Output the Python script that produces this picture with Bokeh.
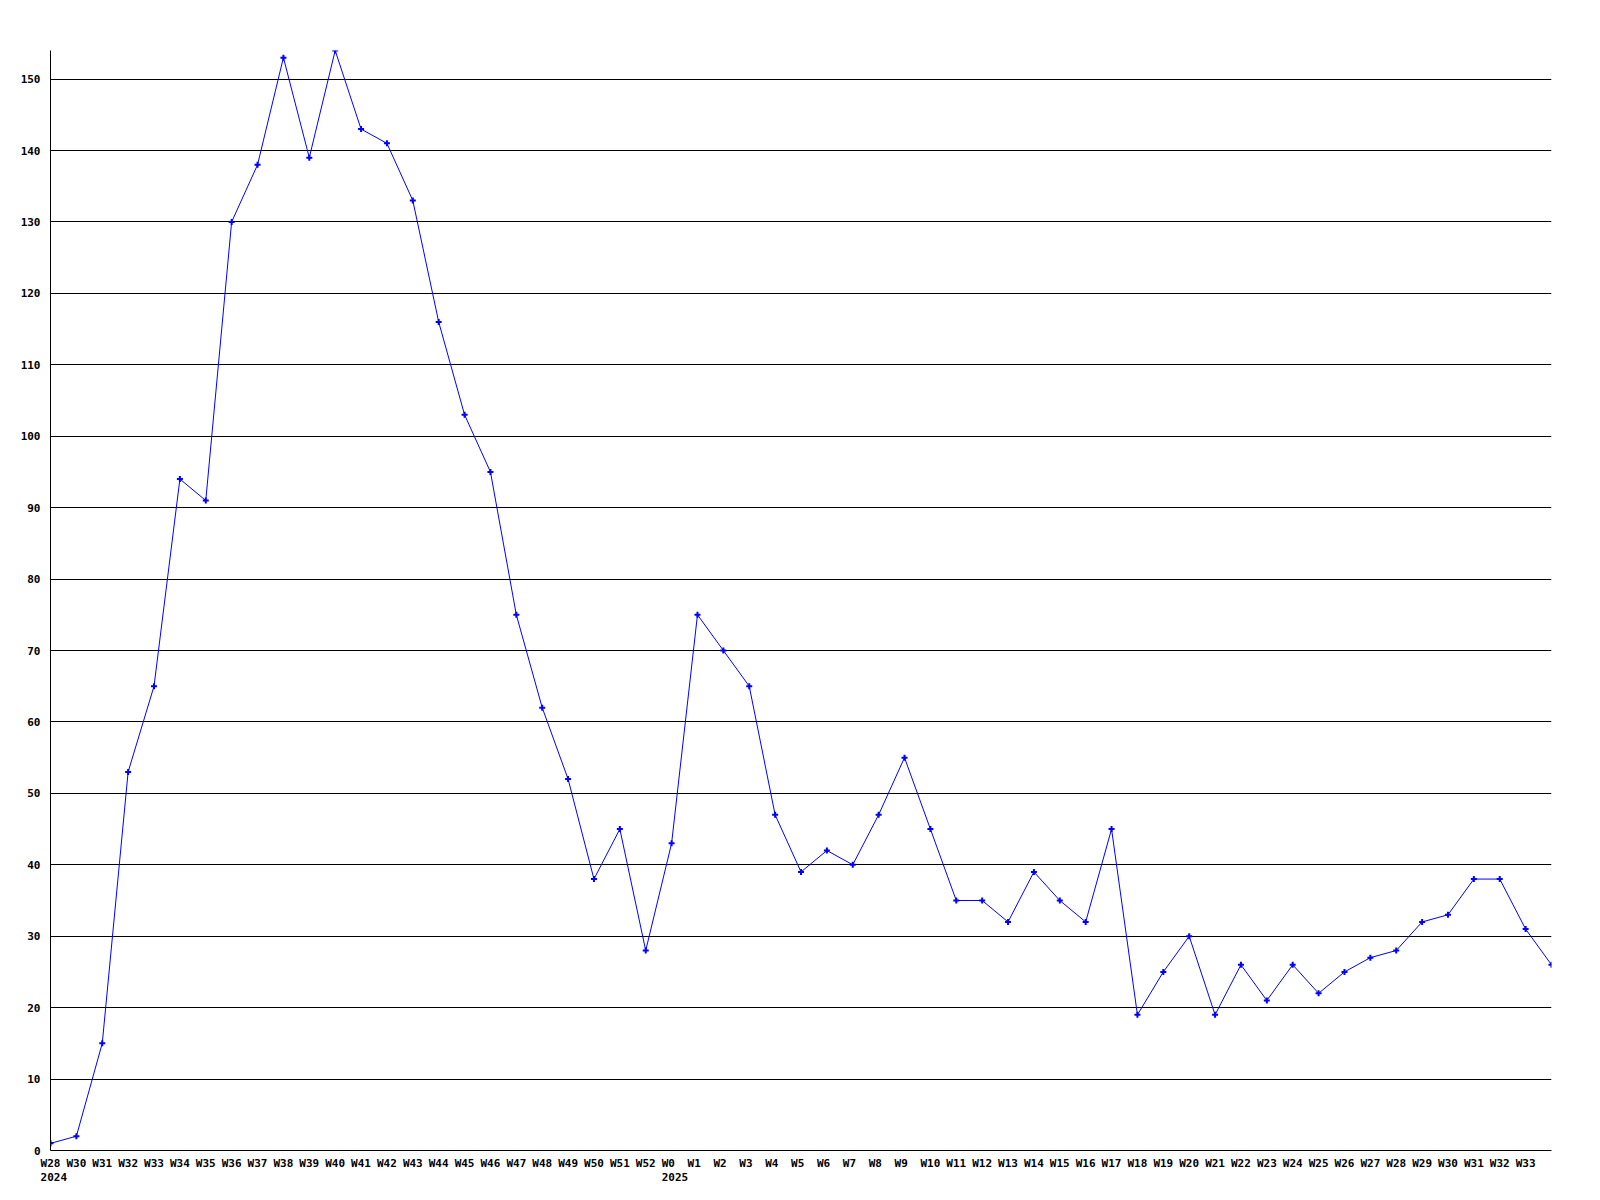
from bokeh.plotting import figure
from bokeh.models import FixedTicker, Range1d
from bokeh.embed import file_html
from bokeh.resources import INLINE

weeks = ["W28", "W30", "W31", "W32", "W33", "W34", "W35", "W36", "W37", "W38",
         "W39", "W40", "W41", "W42", "W43", "W44", "W45", "W46", "W47", "W48",
         "W49", "W50", "W51", "W52",
         "W0", "W1", "W2", "W3", "W4", "W5", "W6", "W7", "W8", "W9", "W10",
         "W11", "W12", "W13", "W14", "W15", "W16", "W17", "W18", "W19", "W20",
         "W21", "W22", "W23", "W24", "W25", "W26", "W27", "W28", "W29", "W30",
         "W31", "W32", "W33", ""]
years = {0: "2024", 24: "2025"}
values = [1, 2, 15, 53, 65, 94, 91, 130, 138, 153,
          139, 154, 143, 141, 133, 116, 103, 95, 75, 62,
          52, 38, 45, 28,
          43, 75, 70, 65, 47, 39, 42, 40, 47, 55, 45,
          35, 35, 32, 39, 35, 32, 45, 19, 25, 30,
          19, 26, 21, 26, 22, 25, 27, 28, 32, 33,
          38, 38, 31, 26]
y_ticks = list(range(0, 151, 10))

xs = list(range(len(values)))

W, H = 1590, 1190
p = figure(width=W, height=H, output_backend="svg", toolbar_location=None,
           x_range=Range1d(0, len(values) - 1), y_range=Range1d(0, max(values)),
           min_border_left=50, min_border_top=50, min_border_right=39,
           min_border_bottom=40)
p.outline_line_color = None
p.background_fill_color = "white"
p.border_fill_color = "white"

p.line(xs, values, line_color="#0000FF", line_width=1)
p.scatter(xs, values, marker="cross", size=6, line_color="#0000FF", line_width=2)

# axes
font = "DejaVu Sans Mono"
NB = "\u00a0"
p.xaxis.ticker = FixedTicker(ticks=xs[:-1])
overrides = {}
for i, w in enumerate(weeks[:-1]):
    lab = w if len(w) >= 3 else w + NB
    if i in years:
        lab = lab + "\n" + NB + years[i]
    overrides[i] = lab
p.xaxis.major_label_overrides = overrides
p.xaxis.minor_tick_line_color = None
p.xaxis.major_tick_out = 0
p.xaxis.major_tick_in = 0
p.xaxis.major_label_standoff = 6
p.xaxis.major_label_text_align = "center"
p.xaxis.major_label_text_line_height = 1.1

p.yaxis.ticker = FixedTicker(ticks=y_ticks)
p.yaxis.minor_tick_line_color = None
p.yaxis.major_tick_out = 0
p.yaxis.major_tick_in = 0
p.yaxis.major_label_standoff = 10

for ax in (p.xaxis, p.yaxis):
    ax.axis_line_color = "black"
    ax.axis_line_width = 1
    ax.major_label_text_font = font
    ax.major_label_text_font_style = "bold"
    ax.major_label_text_font_size = "11px"
    ax.major_label_text_color = "black"

p.xgrid.grid_line_color = None
p.ygrid.grid_line_color = "black"
p.ygrid.grid_line_width = 1
p.ygrid.grid_line_alpha = 1.0

open("out.html", "w").write(file_html(p, INLINE))
